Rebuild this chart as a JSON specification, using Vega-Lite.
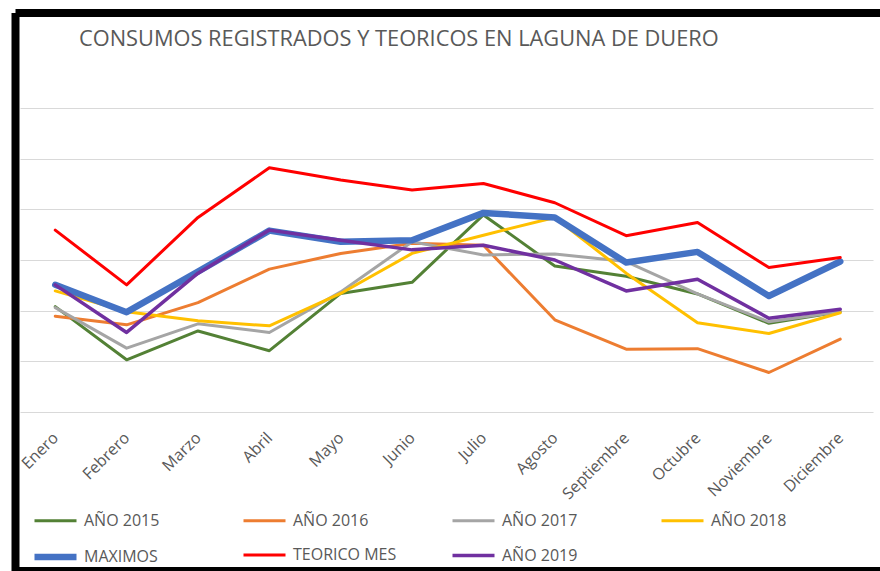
{
  "$schema": "https://vega.github.io/schema/vega-lite/v6.json",
  "width": 864.5,
  "height": 558,
  "autosize": {"type": "none"},
  "padding": {"left": 15.5, "top": 13, "right": 0, "bottom": 0},
  "background": "white",
  "title": {
    "text": "CONSUMOS REGISTRADOS Y TEORICOS EN LAGUNA DE DUERO",
    "anchor": "start",
    "frame": "group",
    "orient": "top",
    "offset": 0,
    "dx": 63.5,
    "dy": 55,
    "baseline": "alphabetic",
    "font": "Open Sans",
    "fontSize": 21.8,
    "fontWeight": "normal",
    "color": "#595959"
  },
  "config": {
    "view": {"fill": "white", "stroke": "black", "strokeWidth": 8, "strokeDash": [864.5, 558, 1422.5, 0]},
    "font": "Open Sans",
    "legend": {
      "title": null,
      "orient": "none",
      "legendX": 15.5,
      "legendY": 481.5,
      "direction": "horizontal",
      "columns": 4,
      "gridAlign": "all",
      "columnPadding": 48,
      "rowPadding": -20,
      "padding": 0,
      "symbolType": "stroke",
      "symbolSize": 1764,
      "labelFont": "Open Sans",
      "labelFontSize": 16,
      "labelColor": "#595959",
      "labelOffset": 4,
      "labelLimit": 300
    }
  },
  "data": {
    "values": [
      {"mes": "Enero", "serie": "AÑO 2015", "valor": 2.08},
      {"mes": "Febrero", "serie": "AÑO 2015", "valor": 1.03},
      {"mes": "Marzo", "serie": "AÑO 2015", "valor": 1.60},
      {"mes": "Abril", "serie": "AÑO 2015", "valor": 1.21},
      {"mes": "Mayo", "serie": "AÑO 2015", "valor": 2.34},
      {"mes": "Junio", "serie": "AÑO 2015", "valor": 2.56},
      {"mes": "Julio", "serie": "AÑO 2015", "valor": 3.89},
      {"mes": "Agosto", "serie": "AÑO 2015", "valor": 2.88},
      {"mes": "Septiembre", "serie": "AÑO 2015", "valor": 2.68},
      {"mes": "Octubre", "serie": "AÑO 2015", "valor": 2.33},
      {"mes": "Noviembre", "serie": "AÑO 2015", "valor": 1.75},
      {"mes": "Diciembre", "serie": "AÑO 2015", "valor": 1.98},
      {"mes": "Enero", "serie": "AÑO 2016", "valor": 1.89},
      {"mes": "Febrero", "serie": "AÑO 2016", "valor": 1.72},
      {"mes": "Marzo", "serie": "AÑO 2016", "valor": 2.16},
      {"mes": "Abril", "serie": "AÑO 2016", "valor": 2.82},
      {"mes": "Mayo", "serie": "AÑO 2016", "valor": 3.13},
      {"mes": "Junio", "serie": "AÑO 2016", "valor": 3.33},
      {"mes": "Julio", "serie": "AÑO 2016", "valor": 3.29},
      {"mes": "Agosto", "serie": "AÑO 2016", "valor": 1.82},
      {"mes": "Septiembre", "serie": "AÑO 2016", "valor": 1.24},
      {"mes": "Octubre", "serie": "AÑO 2016", "valor": 1.25},
      {"mes": "Noviembre", "serie": "AÑO 2016", "valor": 0.78},
      {"mes": "Diciembre", "serie": "AÑO 2016", "valor": 1.44},
      {"mes": "Enero", "serie": "AÑO 2017", "valor": 2.06},
      {"mes": "Febrero", "serie": "AÑO 2017", "valor": 1.26},
      {"mes": "Marzo", "serie": "AÑO 2017", "valor": 1.74},
      {"mes": "Abril", "serie": "AÑO 2017", "valor": 1.57},
      {"mes": "Mayo", "serie": "AÑO 2017", "valor": 2.37},
      {"mes": "Junio", "serie": "AÑO 2017", "valor": 3.36},
      {"mes": "Julio", "serie": "AÑO 2017", "valor": 3.10},
      {"mes": "Agosto", "serie": "AÑO 2017", "valor": 3.12},
      {"mes": "Septiembre", "serie": "AÑO 2017", "valor": 2.97},
      {"mes": "Octubre", "serie": "AÑO 2017", "valor": 2.33},
      {"mes": "Noviembre", "serie": "AÑO 2017", "valor": 1.78},
      {"mes": "Diciembre", "serie": "AÑO 2017", "valor": 1.98},
      {"mes": "Enero", "serie": "AÑO 2018", "valor": 2.39},
      {"mes": "Febrero", "serie": "AÑO 2018", "valor": 1.98},
      {"mes": "Marzo", "serie": "AÑO 2018", "valor": 1.80},
      {"mes": "Abril", "serie": "AÑO 2018", "valor": 1.70},
      {"mes": "Mayo", "serie": "AÑO 2018", "valor": 2.34},
      {"mes": "Junio", "serie": "AÑO 2018", "valor": 3.13},
      {"mes": "Julio", "serie": "AÑO 2018", "valor": 3.49},
      {"mes": "Agosto", "serie": "AÑO 2018", "valor": 3.84},
      {"mes": "Septiembre", "serie": "AÑO 2018", "valor": 2.74},
      {"mes": "Octubre", "serie": "AÑO 2018", "valor": 1.76},
      {"mes": "Noviembre", "serie": "AÑO 2018", "valor": 1.55},
      {"mes": "Diciembre", "serie": "AÑO 2018", "valor": 1.96},
      {"mes": "Enero", "serie": "MAXIMOS", "valor": 2.51},
      {"mes": "Febrero", "serie": "MAXIMOS", "valor": 1.97},
      {"mes": "Marzo", "serie": "MAXIMOS", "valor": 2.77},
      {"mes": "Abril", "serie": "MAXIMOS", "valor": 3.58},
      {"mes": "Mayo", "serie": "MAXIMOS", "valor": 3.36},
      {"mes": "Junio", "serie": "MAXIMOS", "valor": 3.39},
      {"mes": "Julio", "serie": "MAXIMOS", "valor": 3.93},
      {"mes": "Agosto", "serie": "MAXIMOS", "valor": 3.84},
      {"mes": "Septiembre", "serie": "MAXIMOS", "valor": 2.95},
      {"mes": "Octubre", "serie": "MAXIMOS", "valor": 3.16},
      {"mes": "Noviembre", "serie": "MAXIMOS", "valor": 2.29},
      {"mes": "Diciembre", "serie": "MAXIMOS", "valor": 2.97},
      {"mes": "Enero", "serie": "TEORICO MES", "valor": 3.59},
      {"mes": "Febrero", "serie": "TEORICO MES", "valor": 2.51},
      {"mes": "Marzo", "serie": "TEORICO MES", "valor": 3.84},
      {"mes": "Abril", "serie": "TEORICO MES", "valor": 4.82},
      {"mes": "Mayo", "serie": "TEORICO MES", "valor": 4.58},
      {"mes": "Junio", "serie": "TEORICO MES", "valor": 4.38},
      {"mes": "Julio", "serie": "TEORICO MES", "valor": 4.51},
      {"mes": "Agosto", "serie": "TEORICO MES", "valor": 4.13},
      {"mes": "Septiembre", "serie": "TEORICO MES", "valor": 3.48},
      {"mes": "Octubre", "serie": "TEORICO MES", "valor": 3.74},
      {"mes": "Noviembre", "serie": "TEORICO MES", "valor": 2.85},
      {"mes": "Diciembre", "serie": "TEORICO MES", "valor": 3.05},
      {"mes": "Enero", "serie": "AÑO 2019", "valor": 2.51},
      {"mes": "Febrero", "serie": "AÑO 2019", "valor": 1.57},
      {"mes": "Marzo", "serie": "AÑO 2019", "valor": 2.74},
      {"mes": "Abril", "serie": "AÑO 2019", "valor": 3.59},
      {"mes": "Mayo", "serie": "AÑO 2019", "valor": 3.39},
      {"mes": "Junio", "serie": "AÑO 2019", "valor": 3.20},
      {"mes": "Julio", "serie": "AÑO 2019", "valor": 3.29},
      {"mes": "Agosto", "serie": "AÑO 2019", "valor": 3.00},
      {"mes": "Septiembre", "serie": "AÑO 2019", "valor": 2.39},
      {"mes": "Octubre", "serie": "AÑO 2019", "valor": 2.62},
      {"mes": "Noviembre", "serie": "AÑO 2019", "valor": 1.85},
      {"mes": "Diciembre", "serie": "AÑO 2019", "valor": 2.03}
    ]
  },
  "mark": {"type": "line", "strokeCap": "round", "strokeJoin": "round"},
  "encoding": {
    "x": {
      "field": "mes",
      "type": "ordinal",
      "sort": null,
      "scale": {"padding": 0.557},
      "axis": {
        "title": null,
        "offset": -159,
        "domain": false,
        "ticks": false,
        "tickSize": 0,
        "grid": false,
        "labelAngle": -45,
        "labelAlign": "right",
        "labelBaseline": "middle",
        "labelPadding": 23,
        "labelFont": "Open Sans",
        "labelFontSize": 16,
        "labelColor": "#595959",
        "labelOverlap": false
      }
    },
    "y": {
      "field": "valor",
      "type": "quantitative",
      "scale": {"domain": [-3.138, 7.875], "nice": false, "zero": false},
      "axis": {
        "title": null,
        "values": [0, 1, 2, 3, 4, 5, 6],
        "labels": false,
        "domain": false,
        "ticks": false,
        "grid": true,
        "gridColor": "#d9d9d9",
        "gridWidth": 1,
        "gridDash": [0, 4.5, 853, 30]
      }
    },
    "color": {
      "field": "serie",
      "type": "ordinal",
      "sort": null,
      "scale": {
        "domain": ["AÑO 2015", "AÑO 2016", "AÑO 2017", "AÑO 2018", "MAXIMOS", "TEORICO MES", "AÑO 2019"],
        "range": ["#538135", "#ed7d31", "#a5a5a5", "#ffc000", "#4472c4", "#ff0000", "#7030a0"]
      },
      "legend": {"title": null}
    },
    "strokeWidth": {
      "field": "serie",
      "type": "ordinal",
      "sort": null,
      "scale": {
        "type": "ordinal",
        "domain": ["AÑO 2015", "AÑO 2016", "AÑO 2017", "AÑO 2018", "MAXIMOS", "TEORICO MES", "AÑO 2019"],
        "range": [3, 3, 3, 3, 6.5, 3, 3.5]
      },
      "legend": {"title": null}
    }
  }
}
